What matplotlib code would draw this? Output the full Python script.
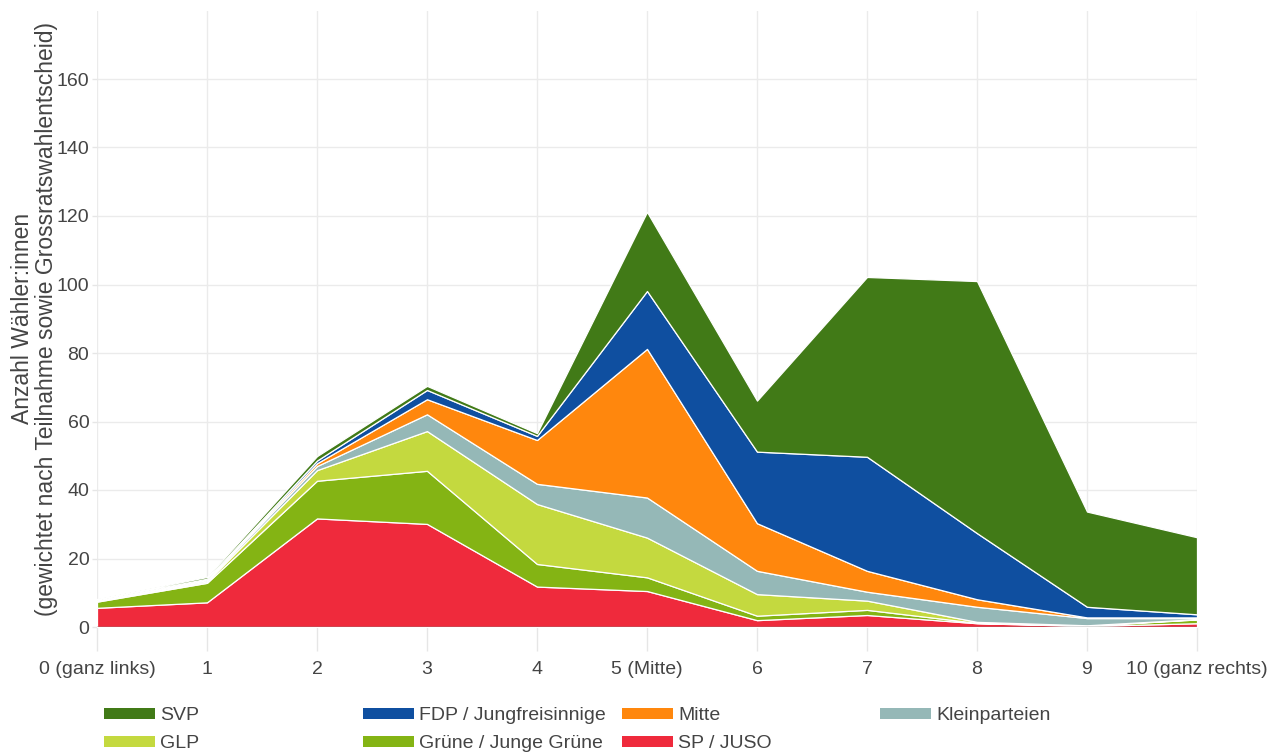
import matplotlib as mpl
mpl.use('agg')
import matplotlib.pyplot as plt
from matplotlib.patches import Patch

# x axis: political self-placement 0..10
positions = [0, 1, 2, 3, 4, 5, 6, 7, 8, 9, 10]
tick_labels = ['0 (ganz links)', '1', '2', '3', '4', '5 (Mitte)', '6', '7', '8', '9',
               '10 (ganz rechts)']

# weighted voter counts per party (stacked from bottom to top)
sp_juso = [5.6, 7.2, 31.7, 30.1, 11.8, 10.5, 2.0, 3.5, 1.1, 0.3, 1.1]
gruene = [1.8, 5.7, 11.0, 15.5, 6.6, 4.0, 1.3, 1.5, 0.1, 0.1, 1.1]
glp = [0.2, 0.4, 3.1, 11.6, 17.5, 11.6, 6.3, 2.7, 0.3, 0.1, 0.1]
kleinparteien = [0.2, 0.4, 1.2, 4.9, 5.9, 11.7, 6.8, 2.6, 4.4, 2.1, 0.3]
mitte = [0.1, 0.2, 0.8, 4.4, 12.8, 43.4, 13.9, 6.1, 2.2, 0.2, 0.2]
fdp = [0.1, 0.2, 0.8, 2.7, 1.2, 16.9, 20.9, 33.3, 19.3, 3.1, 0.9]
svp = [0.2, 0.5, 1.3, 1.2, 0.8, 23.1, 14.9, 52.5, 73.6, 27.8, 22.5]

series = [sp_juso, gruene, glp, kleinparteien, mitte, fdp, svp]
names = ['SP / JUSO', 'Grüne / Junge Grüne', 'GLP', 'Kleinparteien', 'Mitte',
         'FDP / Jungfreisinnige', 'SVP']
colors = ['#ef2a3c', '#84b414', '#c4d93f', '#95b8b7', '#ff870d', '#0f4fa0', '#417a17']

plt.rcParams['font.family'] = ['Liberation Sans', 'DejaVu Sans']

fig = plt.figure(figsize=(12.67, 7.52), dpi=100)
ax = fig.add_axes([97 / 1267, 1 - 627 / 752, 1100 / 1267, 616.5 / 752])

ax.stackplot(positions, *series, colors=colors, edgecolor='white', linewidth=0.9,
             zorder=2)

ax.set_xlim(0, 10)
ax.set_ylim(0, 180)
ax.set_xticks(positions)
ax.set_xticklabels(tick_labels)
ax.set_yticks(range(0, 161, 20))
ax.grid(True, color='#ebebeb', linewidth=1, zorder=0)
ax.set_axisbelow(True)
for s in ax.spines.values():
    s.set_visible(False)
ax.axhline(0, color='#444444', linewidth=1, zorder=3)
ax.tick_params(axis='both', labelsize=14, labelcolor='#444444', color='#e6e6e6',
               width=1)
ax.tick_params(axis='x', length=17.5, pad=7)
ax.tick_params(axis='y', length=3.5, pad=2)

ax.set_ylabel('Anzahl Wähler:innen\n(gewichtet nach Teilnahme sowie Grossratswahlentscheid)',
              fontsize=16.5, color='#444444', linespacing=1.05)
ax.yaxis.set_label_coords(-39 / 1100, 0.5)

# legend laid out in four evenly spaced columns
by_name = dict(zip(names, colors))
columns = [['SVP', 'GLP'], ['FDP / Jungfreisinnige', 'Grüne / Junge Grüne'],
           ['Mitte', 'SP / JUSO'], ['Kleinparteien']]
col_x = [104, 363, 622, 880]
for xpix, col in zip(col_x, columns):
    handles = [Patch(facecolor=by_name[n], edgecolor='none', label=n) for n in col]
    fig.legend(handles=handles, loc='upper left',
               bbox_to_anchor=(xpix / 1267, 1 - 707 / 752),
               frameon=False, fontsize=14, handlelength=2.6, handleheight=0.5,
               handletextpad=0.3, labelspacing=0.58, borderpad=0, borderaxespad=0,
               labelcolor='#444444')

fig.savefig('out.png', dpi=100)
